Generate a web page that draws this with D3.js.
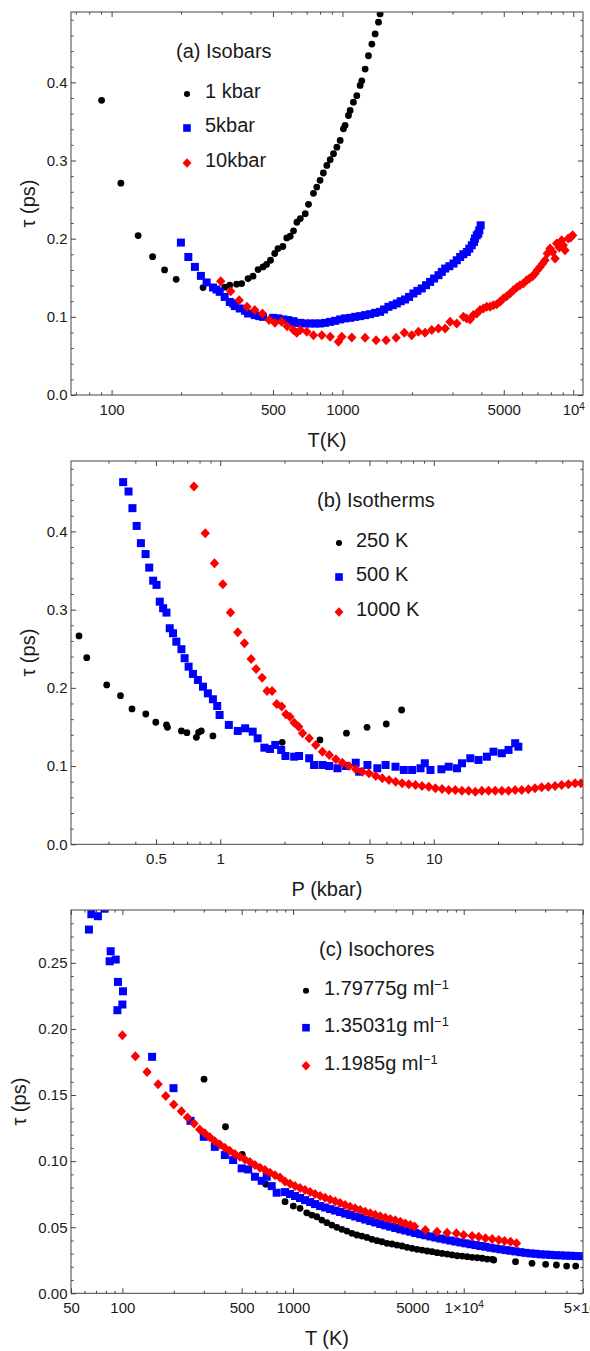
<!DOCTYPE html>
<html><head><meta charset="utf-8">
<script src="https://cdn.jsdelivr.net/npm/d3@7"></script>
<style>
body{margin:0;background:#fff}
text{font-family:"Liberation Sans",Arial,Helvetica,sans-serif;fill:#1a1a1a}
</style>
</head><body>
<svg id="chart" width="590" height="1351"></svg>
<script>
// ---------- Panel (a) Isobars: T (K) vs tau (ps) ----------
const isobar1kbar = [[90.5,.377],[109.7,.271],[130.3,.204],[150.5,.177],[169.6,.160],[190.4,.148],[249,.1375],[309,.138],[325,.1405],[348,.1418],[366,.1426],[390,.149],[410,.152],[431,.1605],[453,.1638],[469,.167],[488,.1724],[509,.181],[526,.1873],[552,.190],[574,.201],[594,.2031],[614,.21],[635,.221],[657,.2257],[690,.232],[713,.244],[749,.258],[774,.266],[800,.2746],[827,.284],[856,.2937],[885,.301],[915,.3087],[946,.317],[978,.3257],[1010,.3406],[1027,.345],[1062,.3576],[1080,.364],[1116,.3746],[1154,.383],[1193,.396],[1213,.402],[1254,.417],[1296,.434],[1341,.449],[1386,.462],[1433,.477],[1456,.4875]];
const isobar5kbar = [[199.6,.195],[215,.1766],[229.6,.1639],[243.7,.1524],[258,.144],[275,.1375],[284.8,.135],[294,.132],[309,.1255],[325,.119],[336,.1171],[342,.1137],[359,.1107],[378.5,.1077],[390,.1043],[417,.1022],[436,.1009],[453,.1],[501,.0987],[527,.098],[554,.0967],[582,.0958],[613,.0945],[624,.0923],[657,.0923],[690,.0915],[725,.0915],[762,.0915],[800,.0915],[841,.0923],[885,.0936],[930,.0949],[978,.0967],[1027,.098],[1080,.0987],[1135,.1],[1193,.1009],[1254,.1022],[1318,.1034],[1385,.1051],[1456,.1064],[1515,.1094],[1582,.1128],[1652,.1149],[1720,.1171],[1789,.12],[1867,.1222],[1944,.1255],[2030,.1299],[2112,.1332],[2206,.1363],[2303,.1405],[2398,.1447],[2495,.149],[2607,.1533],[2694,.1575],[2787,.1618],[2906,.1648],[3028,.1682],[3128,.1724],[3237,.1766],[3340,.1801],[3459,.183],[3546,.1873],[3634,.1916],[3716,.1958],[3752,.2001],[3818,.2043],[3878,.2065],[3917,.2107],[3970,.2171]];
const isobar10kbar = [[297,.1456],[328,.1328],[357,.1213],[386,.1128],[417,.1086],[450,.1043],[481,.0958],[510,.0923],[545,.0936],[576,.0881],[613,.083],[634,.0796],[657,.083],[701,.0809],[749,.0766],[814,.0766],[885,.0745],[961,.068],[994,.0745],[1098,.0736],[1254,.0732],[1399,.0702],[1546,.0702],[1708,.0732],[1855,.0796],[1996,.0766],[2133,.0809],[2280,.0796],[2438,.083],[2606,.0851],[2787,.0851],[2926,.0936],[3128,.0915],[3343,.1],[3455,.098],[3573,.0967],[3690,.1022],[3820,.1043],[3945,.1086],[4078,.1107],[4218,.1128],[4359,.1128],[4506,.1149],[4660,.1162],[4816,.1192],[4978,.1235],[5148,.1264],[5321,.1299],[5500,.1341],[5688,.1375],[5875,.1405],[6079,.1427],[6280,.1469],[6455,.149],[6668,.152],[6830,.1554],[6983,.1596],[7180,.1639],[7372,.1682],[7550,.1724],[7718,.181],[7930,.1873],[8143,.183],[8340,.1746],[8480,.1937],[8696,.1886],[8910,.198],[9050,.1916],[9210,.1852],[9510,.2001],[9743,.2014],[9940,.2043]];

// ---------- Panel (b) Isotherms: P (kbar) vs tau (ps) ----------
const isotherm250K = [[0.218,.2664],[0.237,.2386],[0.294,.2037],[0.341,.19],[0.386,.173],[0.448,.1666],[0.499,.156],[0.56,.1526],[0.566,.1496],[0.658,.1449],[0.698,.1427],[0.773,.1368],[0.792,.1432],[0.815,.1449],[0.924,.1385],[1.95,.1304],[2.93,.1334],[3.9,.142],[4.87,.1496],[5.99,.1538],[7.07,.1717]];
const isotherm500K = [[0.351,.463],[0.372,.451],[0.388,.4297],[0.406,.407],[0.425,.385],[0.447,.371],[0.465,.3537],[0.485,.337],[0.503,.3316],[0.521,.3102],[0.54,.3018],[0.56,.2962],[0.58,.2762],[0.601,.2698],[0.623,.259],[0.658,.2494],[0.681,.2379],[0.711,.2271],[0.745,.2178],[0.786,.2101],[0.83,.2015],[0.875,.193],[0.924,.1854],[0.968,.1768],[0.993,.1653],[1.097,.1526],[1.208,.1449],[1.308,.1483],[1.419,.144],[1.498,.1355],[1.61,.1235],[1.71,.1219],[1.81,.127],[1.93,.1206],[2.02,.1129],[2.22,.112],[2.34,.1129],[2.61,.11],[2.75,.1014],[3.01,.1014],[3.24,.1001],[3.54,.0972],[3.87,.1001],[4.31,.1043],[4.47,.0928],[4.89,.1014],[5.44,.0972],[5.95,.1014],[6.62,.0992],[7.24,.095],[7.92,.095],[8.67,.0972],[9.08,.1036],[9.65,.095],[10.86,.0959],[11.75,.0992],[12.85,.0972],[13.56,.1036],[14.83,.11],[16.2,.1078],[17.73,.112],[19.05,.1184],[20.83,.1164],[22.4,.1206],[24.06,.1292],[24.9,.1248]];
const isotherm1000K = [[0.753,.4573],[0.851,.3977],[0.94,.3593],[1.028,.3325],[1.117,.2962],[1.208,.2711],[1.298,.257],[1.395,.237],[1.472,.2242],[1.571,.213],[1.657,.196],[1.749,.196],[1.838,.1794],[1.94,.176],[2.03,.1662],[2.12,.1632],[2.22,.1555],[2.33,.1504],[2.43,.1419],[2.61,.1355],[2.8,.127],[3.01,.1184],[3.24,.1142],[3.48,.1087],[3.73,.1043],[4.01,.1001],[4.31,.0959],[4.63,.0928],[4.97,.0908],[5.35,.0873],[5.74,.0844],[6.17,.0822],[6.63,.08],[7.11,.078],[7.64,.0767],[8.22,.0758],[8.81,.0745],[9.48,.0737],[10.18,.0716],[10.94,.0707],[11.75,.0694],[12.62,.0694],[13.55,.0685],[14.56,.0685],[15.65,.0673],[16.8,.0685],[18.06,.0685],[19.4,.0685],[20.84,.0685],[22.39,.0685],[24.05,.0694],[25.83,.0694],[27.75,.0703],[29.8,.0716],[32,.0729],[34.4,.0737],[37,.0745],[39.7,.0758],[42.7,.0767],[45.9,.078],[48.9,.078]];

// ---------- Panel (c) Isochores: T (K) vs tau (ps) ----------
const isochore179775 = [[301,.162],[402,.126],[504,.1051],[692,.0826],[898,.0693],[1004,.066],[1099,.0643],[1203,.0609],[1288,.0592],[1377,.0579],[1474,.0554],[1578,.0534],[1688,.0516],[1806,.0499],[1932,.0484],[2067,.0471],[2213,.0454],[2366,.0441],[2532,.0433],[2710,.0423],[2899,.0408],[3101,.0398],[3318,.039],[3550,.0378],[3800,.0373],[4064,.0365],[4348,.0358],[4654,.0348],[4980,.034],[5325,.0333],[5700,.0327],[6098,.032],[6524,.0315],[6980,.0307],[7468,.0302],[7990,.0297],[8548,.029],[9144,.0284],[9786,.0282],[10470,.0277],[11200,.0272],[11990,.0269],[12830,.0265],[13720,.0259],[14680,.0257],[15000,.0252],[20120,.0239],[25120,.0227],[30200,.0219],[34930,.0214],[40090,.0206],[45300,.0206]];
const isochore135031 = [[63.7,.2752],[65.8,.2868],[71.9,.2853],[78.7,.291],[84.2,.2512],[85.4,.2588],[91.4,.2525],[93.5,.2142],[94.2,.2356],[100,.2185],[100.8,.2285],[149.3,.1789],[199.3,.1552],[250.7,.1305],[300,.1184],[348,.1108],[398.6,.1046],[445.7,.1008],[500,.0945],[546,.0937],[598,.0882],[655,.0851],[701,.0882],[750,.0811],[802,.0761],[898,.0766],[960,.0751],[1027,.0736],[1099,.0721],[1176,.0705],[1259,.069],[1346,.0675],[1441,.066],[1542,.0649],[1650,.0637],[1765,.0626],[1888,.0615],[2020,.0603],[2161,.0592],[2313,.0581],[2475,.057],[2648,.0558],[2833,.0547],[3030,.0536],[3243,.0524],[3470,.0514],[3712,.0504],[3972,.0494],[4250,.0484],[4547,.0475],[4866,.0466],[5206,.0456],[5570,.0447],[5959,.0439],[6376,.043],[6822,.0422],[7299,.0414],[7810,.0407],[8355,.0399],[8940,.0392],[9564,.0385],[10233,.0378],[10950,.0371],[11714,.0365],[12533,.0358],[13410,.0352],[14347,.0345],[15352,.0339],[16425,.0333],[17574,.0327],[18801,.0322],[20117,.0317],[21522,.0311],[23030,.0306],[24640,.0302],[26363,.0299],[28210,.0295],[30180,.0293],[32290,.0291],[34550,.0288],[36960,.0287],[39550,.0285],[42310,.0284],[45280,.0282],[48440,.0281]];
const isochore11985 = [[100,.1953],[119.2,.1794],[139.5,.1675],[161.9,.1582],[179.5,.1492],[200,.1429],[221.7,.1378],[240.8,.133],[263,.1285],[284,.124],[304,.121],[325.6,.118],[348,.1151],[372.7,.1126],[398.5,.1101],[426,.1078],[456,.1053],[488,.1033],[522,.1013],[559,.0993],[598,.097],[640,.095],[685,.0932],[733,.0912],[784,.0894],[839,.0877],[898,.0845],[960,.0828],[1027,.0812],[1099,.0796],[1176,.0781],[1259,.0766],[1346,.0751],[1441,.0736],[1542,.0722],[1650,.0709],[1765,.0696],[1888,.0683],[2020,.0668],[2161,.0655],[2313,.0643],[2475,.063],[2648,.0617],[2833,.0605],[3030,.0594],[3243,.0583],[3470,.0572],[3712,.0562],[3972,.0552],[4250,.0541],[4547,.0529],[4866,.0516],[5150,.0505],[5959,.0479],[6980,.0466],[7990,.0458],[9060,.0454],[10000,.0441],[11200,.0433],[12250,.0428],[13410,.0416],[14680,.0411],[16050,.0403],[17340,.0395],[18800,.039],[20390,.0378]];

// ---------- ticks and labels ----------
const xMajorA = [100,500,1000,5000,10000];
const xMajorLabelsA = ["100","500","1000","5000","10^4"];
const xMinorA = [70,80,90,200,300,400,600,700,800,900,2000,3000,4000,6000,7000,8000,9000];
const xMajorB = [0.5,1,5,10];
const xMajorLabelsB = ["0.5","1","5","10"];
const xMinorB = [0.3,0.4,0.6,0.7,0.8,0.9,2,3,4,6,7,8,9,20,30,40];
const xMajorC = [50,100,500,1000,5000,10000,50000];
const xMajorLabelsC = ["50","100","500","1000","5000","1×10^4","5×10^4"];
const xMinorC = [60,70,80,90,200,300,400,600,700,800,900,2000,3000,4000,6000,7000,8000,9000,20000,30000,40000];
const yMajorAB = [0,0.1,0.2,0.3,0.4];
const yMajorLabelsAB = ["0.0","0.1","0.2","0.3","0.4"];
const yMinorAB = [0.02,0.04,0.06,0.08,0.12,0.14,0.16,0.18,0.22,0.24,0.26,0.28,0.32,0.34,0.36,0.38,0.42,0.44,0.46,0.48];
const yMajorC = [0,0.05,0.10,0.15,0.20,0.25];
const yMajorLabelsC = ["0.00","0.05","0.10","0.15","0.20","0.25"];
const yMinorC = [0.01,0.02,0.03,0.04,0.06,0.07,0.08,0.09,0.11,0.12,0.13,0.14,0.16,0.17,0.18,0.19,0.21,0.22,0.23,0.24,0.26,0.27,0.28];

const legendA = ["1 kbar","5kbar","10kbar"];
const legendB = ["250 K","500 K","1000 K"];
const legendC = ["1.79775g ml^−1","1.35031g ml^−1","1.1985g ml^−1"];

const svg = d3.select("#chart");
const LEFT = 71, RIGHT = 583;
const FRAME = "#444";

function setLabel(sel, str, supSize) {
  sel.text(null);
  const parts = str.split("^");
  sel.append("tspan").text(parts[0]);
  if (parts.length > 1) sel.append("tspan").attr("dy", "-0.45em").attr("font-size", supSize).text(parts[1]);
}

function drawMarker(g, shape, cx, cy, s) {
  if (shape === "circle") {
    g.append("circle").attr("cx", cx).attr("cy", cy).attr("r", 3.4 * s).attr("fill", "#000");
  } else if (shape === "square") {
    const h = 4 * s;
    g.append("rect").attr("x", cx - h).attr("y", cy - h).attr("width", 2 * h).attr("height", 2 * h).attr("fill", "#0000ff");
  } else {
    const w = 4.7 * s, hh = 5 * s;
    g.append("path").attr("d", `M${cx},${cy - hh}L${cx + w},${cy}L${cx},${cy + hh}L${cx - w},${cy}Z`).attr("fill", "#ff0000");
  }
}

function panel(cfg, idx) {
  const x = d3.scaleLog().domain(cfg.xDomain).range([LEFT, RIGHT]);
  const y = d3.scaleLinear().domain(cfg.yDomain).range([cfg.bottom, cfg.top]);
  const g = svg.append("g");
  const clipId = "clip" + idx;
  g.append("clipPath").attr("id", clipId).append("rect")
    .attr("x", LEFT).attr("y", cfg.top).attr("width", RIGHT - LEFT).attr("height", cfg.bottom - cfg.top);

  // data
  const pts = g.append("g").attr("clip-path", `url(#${clipId})`);
  cfg.series.forEach(s => {
    const sg = pts.append("g");
    s.data.forEach(d => drawMarker(sg, s.shape, x(d[0]), y(d[1]), 1));
  });

  // axes
  const styleAxis = a => { a.select(".domain").remove(); a.selectAll("line").attr("stroke", FRAME); };
  const bMaj = g.append("g").attr("transform", `translate(0,${cfg.bottom})`)
    .call(d3.axisBottom(x).tickValues(cfg.xMajor).tickSize(-5).tickPadding(9).tickFormat((d, i) => cfg.xMajorLabels[i]));
  styleAxis(bMaj);
  bMaj.selectAll("text").attr("font-size", 15).attr("font-family", null).each(function(d, i) { setLabel(d3.select(this), cfg.xMajorLabels[i], 10); });
  const bMin = g.append("g").attr("transform", `translate(0,${cfg.bottom})`)
    .call(d3.axisBottom(x).tickValues(cfg.xMinor).tickSize(-2.6).tickFormat(""));
  styleAxis(bMin);
  const tMaj = g.append("g").attr("transform", `translate(0,${cfg.top})`)
    .call(d3.axisTop(x).tickValues(cfg.xMajor).tickSize(-5).tickFormat(""));
  styleAxis(tMaj);
  const tMin = g.append("g").attr("transform", `translate(0,${cfg.top})`)
    .call(d3.axisTop(x).tickValues(cfg.xMinor).tickSize(-2.6).tickFormat(""));
  styleAxis(tMin);

  const lMaj = g.append("g").attr("transform", `translate(${LEFT},0)`)
    .call(d3.axisLeft(y).tickValues(cfg.yMajor).tickSize(-5).tickPadding(3.5).tickFormat((d, i) => cfg.yMajorLabels[i]));
  styleAxis(lMaj);
  lMaj.selectAll("text").attr("font-size", 15).attr("font-family", null);
  const lMin = g.append("g").attr("transform", `translate(${LEFT},0)`)
    .call(d3.axisLeft(y).tickValues(cfg.yMinor).tickSize(-2.6).tickFormat(""));
  styleAxis(lMin);
  const rMaj = g.append("g").attr("transform", `translate(${RIGHT},0)`)
    .call(d3.axisRight(y).tickValues(cfg.yMajor).tickSize(-5).tickFormat(""));
  styleAxis(rMaj);
  const rMin = g.append("g").attr("transform", `translate(${RIGHT},0)`)
    .call(d3.axisRight(y).tickValues(cfg.yMinor).tickSize(-2.6).tickFormat(""));
  styleAxis(rMin);

  // frame
  g.append("rect").attr("x", LEFT).attr("y", cfg.top).attr("width", RIGHT - LEFT).attr("height", cfg.bottom - cfg.top)
    .attr("fill", "none").attr("stroke", FRAME).attr("stroke-width", 1);

  // axis labels
  g.append("text").attr("x", (LEFT + RIGHT) / 2).attr("y", cfg.bottom + 52).attr("text-anchor", "middle")
    .attr("font-size", 20).text(cfg.xLabel);
  g.append("text").attr("transform", `translate(${cfg.yLabelX},${(cfg.top + cfg.bottom) / 2}) rotate(-90)`)
    .attr("text-anchor", "middle").attr("dominant-baseline", "central").attr("font-size", 20).text("τ (ps)");

  // legend
  const L = cfg.legend;
  g.append("text").attr("x", L.titleX).attr("y", cfg.top + L.titleDy).attr("font-size", 20).text(L.title);
  cfg.series.forEach((s, i) => {
    const my = cfg.top + L.rowDy[i];
    const lg = g.append("g");
    drawMarker(lg, s.shape, L.markerX, my, s.shape === "circle" ? 0.9 : 0.95);
    const t = g.append("text").attr("x", L.textX).attr("y", my + 4.3).attr("font-size", 20);
    setLabel(t, L.labels[i], 13);
  });
}

panel({
  top: 12, bottom: 395, xDomain: [66.7, 11020], yDomain: [0, 0.49],
  xMajor: xMajorA, xMajorLabels: xMajorLabelsA, xMinor: xMinorA,
  yMajor: yMajorAB, yMajorLabels: yMajorLabelsAB, yMinor: yMinorAB,
  series: [{data: isobar1kbar, shape: "circle"}, {data: isobar5kbar, shape: "square"}, {data: isobar10kbar, shape: "diamond"}],
  xLabel: "T(K)", yLabelX: 28,
  legend: {title: "(a) Isobars", titleX: 176, titleDy: 46, markerX: 187, textX: 205, rowDy: [82, 116, 151], labels: legendA}
}, 0);

panel({
  top: 461, bottom: 844.3, xDomain: [0.2, 50], yDomain: [0, 0.49],
  xMajor: xMajorB, xMajorLabels: xMajorLabelsB, xMinor: xMinorB,
  yMajor: yMajorAB, yMajorLabels: yMajorLabelsAB, yMinor: yMinorAB,
  series: [{data: isotherm250K, shape: "circle"}, {data: isotherm500K, shape: "square"}, {data: isotherm1000K, shape: "diamond"}],
  xLabel: "P (kbar)", yLabelX: 28,
  legend: {title: "(b) Isotherms", titleX: 317, titleDy: 46, markerX: 339, textX: 356, rowDy: [82, 116, 151], labels: legendB}
}, 1);

panel({
  top: 910, bottom: 1293.3, xDomain: [50, 50000], yDomain: [0, 0.29],
  xMajor: xMajorC, xMajorLabels: xMajorLabelsC, xMinor: xMinorC,
  yMajor: yMajorC, yMajorLabels: yMajorLabelsC, yMinor: yMinorC,
  series: [{data: isochore179775, shape: "circle"}, {data: isochore135031, shape: "square"}, {data: isochore11985, shape: "diamond"}],
  xLabel: "T (K)", yLabelX: 19,
  legend: {title: "(c) Isochores", titleX: 319, titleDy: 46, markerX: 306, textX: 324, rowDy: [80.7, 117.7, 155.7], labels: legendC}
}, 2);
</script>
</body></html>
